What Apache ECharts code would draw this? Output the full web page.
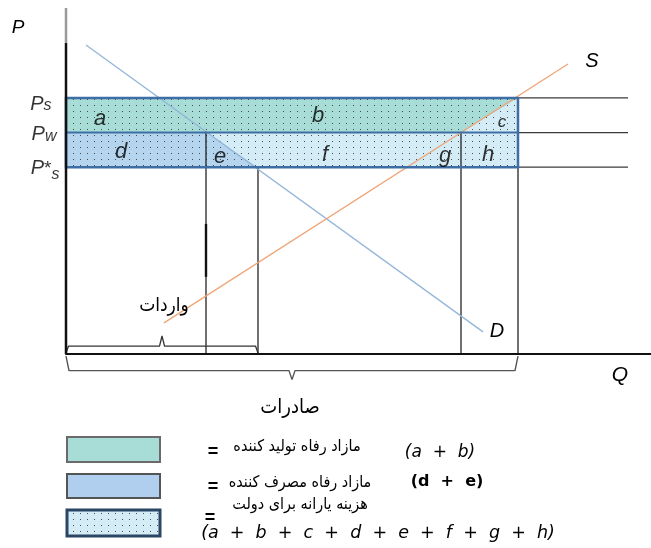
<!DOCTYPE html>
<html><head><meta charset="utf-8">
<script src="https://cdn.jsdelivr.net/npm/echarts@6/dist/echarts.min.js"></script>
<style>html,body{margin:0;padding:0;background:#fff}#c{width:651px;height:548px}</style>
</head><body><div id="c"></div>
<script>
// ---- data (Q on x, P on y) ----
const priceNames = ['Ps', 'Pw', 'P*s'];
const priceValues = [74, 64, 54];
const demandCurve = [[4, 89.3], [83.4, 6.4]];
const supplyCurve = [[19.6, 9.0], [100.4, 83.8]];
const qDemandWorld = 28;    // demand at Pw
const qDemandCons = 38.4;   // demand at P*s
const qSupplyWorld = 79;    // supply at Pw
const qSupplyProd = 90.4;   // supply at Ps
const qLineEnd = 112.4;
const regionNames = ['a', 'b', 'c', 'd', 'e', 'f', 'g', 'h'];
const regionQ = [6.8, 50.4, 87.2, 11, 30.8, 51.8, 75.8, 84.4];
const regionP = [68, 68.8, 67, 58.4, 56.9, 57.5, 57.2, 57.5];

const Ps = priceValues[0], Pw = priceValues[1], Pc = priceValues[2];

const dotCanvas = document.createElement('canvas');
dotCanvas.width = 7; dotCanvas.height = 6;
const dctx = dotCanvas.getContext('2d');
dctx.fillStyle = 'rgba(60,60,60,0.9)';
dctx.fillRect(3, 3, 1, 1);
const dots = { image: dotCanvas, repeat: 'repeat' };

function area(points, style, z) {
  return {
    type: 'custom', coordinateSystem: 'cartesian2d', data: [[0, 0]], z: z, silent: true, clip: false,
    renderItem: (params, api) => ({ type: 'polygon', shape: { points: points.map(p => api.coord(p)) }, style: style })
  };
}
function seg(points, color, width, z) {
  return { type: 'line', data: points, symbol: 'none', clip: false, silent: true, z: z,
    lineStyle: { color: color, width: width }, animation: false };
}

const lightRect = [[0, Pc], [qSupplyProd, Pc], [qSupplyProd, Ps], [0, Ps]];
const tealPoly = [[0, Ps], [qSupplyProd, Ps], [qSupplyWorld, Pw], [0, Pw]];
const bluePoly = [[0, Pw], [qDemandWorld, Pw], [qDemandCons, Pc], [0, Pc]];

const series = [
  area(lightRect, { fill: '#d4ecf5' }, 1),
  area(tealPoly, { fill: '#a8dcd6' }, 2),
  area(bluePoly, { fill: '#b5d4ee' }, 2),
  area(lightRect, { fill: dots }, 3),
  area(lightRect, { fill: 'none', stroke: '#3d6ea6', lineWidth: 2.5 }, 6),
  seg([[0, Pw], [qSupplyProd, Pw]], '#3d6ea6', 2, 6)
];
priceValues.forEach(p => series.push(seg([[qSupplyProd, p], [qLineEnd, p]], '#3a3a3a', 1.3, 4)));
series.push(seg([[qDemandWorld, Pw], [qDemandWorld, 0]], '#111', 1.2, 4));
series.push(seg([[qDemandWorld, 37.6], [qDemandWorld, 22.3]], '#111', 2.4, 4));
series.push(seg([[qDemandCons, Pc], [qDemandCons, 0]], '#111', 1.2, 4));
series.push(seg([[qSupplyWorld, Pw], [qSupplyWorld, 0]], '#111', 1.2, 4));
series.push(seg([[qSupplyProd, Pc], [qSupplyProd, 0]], '#111', 1.2, 4));
series.push(seg(demandCurve, '#93b6d8', 1.3, 5));
series.push(seg(supplyCurve, '#f0a577', 1.3, 5));
// braces
const qImpMid = qDemandCons / 2, qExpMid = qSupplyProd / 2;
series.push(seg([[0, 0.3], [0.5, 2.3], [qImpMid - 0.5, 2.3], [qImpMid, 5.2], [qImpMid + 0.5, 2.3], [qDemandCons - 0.5, 2.3], [qDemandCons, 0.3]], '#333', 1.3, 4));
series.push(seg([[0, -0.6], [0.6, -4.8], [qExpMid - 0.6, -4.8], [qExpMid, -7.4], [qExpMid + 0.6, -4.8], [qSupplyProd - 0.6, -4.8], [qSupplyProd, -0.6]], '#555', 1.4, 4));
// vertical axis (grey top)
series.push(seg([[0, 0], [0, 89.9]], '#111', 2.5, 7));
series.push(seg([[0, 89.9], [0, 100]], '#999', 2.5, 7));
// region letters
series.push({
  type: 'scatter', clip: false, silent: true, z: 8, symbolSize: 1, itemStyle: { color: 'rgba(0,0,0,0)' },
  data: regionNames.map((n, i) => ({ value: [regionQ[i], regionP[i]], name: n,
    label: { fontSize: n === 'c' ? 17 : 22 } })),
  label: { show: true, position: 'inside', formatter: '{b}', color: '#000', textBorderWidth: 0, fontStyle: 'italic', fontFamily: 'Liberation Sans' }
});
// price labels
const priceOffsets = [[-14, 6], [-9, 2], [-6, 3]];
const priceFmt = ['{p|P}{s|s}', '{p|P}{s|w}', '{pp|P}{st|*}{s|s}'];
series.push({
  type: 'scatter', clip: false, silent: true, z: 8, symbolSize: 1, itemStyle: { color: 'rgba(0,0,0,0)' },
  data: priceValues.map((p, i) => ({ value: [0, p], name: priceNames[i],
    label: { formatter: priceFmt[i], offset: priceOffsets[i] } })),
  label: {
    show: true, position: 'left', distance: 0, color: '#000',
    rich: {
      p: { fontSize: 20, fontStyle: 'italic', fontFamily: 'Liberation Sans', verticalAlign: 'bottom', color: '#000' },
      pp: { fontSize: 20, fontStyle: 'italic', fontFamily: 'Liberation Sans', verticalAlign: 'bottom', padding: [0, 0, 4, 0], color: '#000' },
      st: { fontSize: 19, fontFamily: 'Liberation Sans', verticalAlign: 'bottom', padding: [0, 0, 4, 0], color: '#000' },
      s: { fontSize: 16, fontStyle: 'italic', fontFamily: 'Liberation Sans', verticalAlign: 'bottom', color: '#000' }
    }
  }
});

function txt(text, x, y, font, extra) {
  return Object.assign({ type: 'text', z: 10, silent: true,
    style: { text: text, x: x, y: y, font: font, fill: '#000', textAlign: 'center', textVerticalAlign: 'middle', align: 'center', verticalAlign: 'middle' } }, extra || {});
}
const latin = '"Liberation Sans", Arial, sans-serif';
const fa = '"DejaVu Sans Condensed", "DejaVu Sans", sans-serif';
const graphic = [
  txt('P', 18, 28, 'italic 19px ' + latin),
  txt('Q', 620, 375, 'italic 21px ' + latin),
  txt('S', 592, 61, 'italic 20px ' + latin),
  txt('D', 497, 331, 'italic 20px ' + latin),
  txt('واردات', 164, 306, '19px ' + fa),
  txt('صادرات', 290, 408, '20px ' + fa),
  { type: 'rect', z: 10, silent: true, shape: { x: 67, y: 437, width: 93, height: 25 }, style: { fill: '#a8dcd6', stroke: '#6a6a6a', lineWidth: 2 } },
  { type: 'rect', z: 10, silent: true, shape: { x: 67, y: 474, width: 93, height: 24 }, style: { fill: '#b0cfee', stroke: '#555', lineWidth: 2 } },
  { type: 'rect', z: 10, silent: true, shape: { x: 67, y: 510, width: 93, height: 26 }, style: { fill: '#d4ecf5', stroke: 'none' } },
  { type: 'rect', z: 11, silent: true, shape: { x: 67, y: 510, width: 93, height: 26 }, style: { fill: dots, stroke: '#2a4565', lineWidth: 3 } },
  txt('=', 213, 452, 'bold 18px ' + latin),
  txt('مازاد رفاه تولید کننده', 297, 447, '16px ' + fa),
  txt('(a  +  b)', 440, 453, 'italic 17px "DejaVu Sans", sans-serif'),
  txt('=', 213, 487, 'bold 18px ' + latin),
  txt('مازاد رفاه مصرف کننده', 300, 483, '16px ' + fa),
  txt('(d  +  e)', 447, 482, 'bold 16px "DejaVu Sans", sans-serif'),
  txt('هزینه یارانه برای دولت', 300, 505, '16px ' + fa),
  txt('=', 210, 518, 'bold 18px ' + latin),
  txt('(a  +  b  +  c  +  d  +  e  +  f  +  g  +  h)', 378, 533, 'italic 17.5px "DejaVu Sans", sans-serif')
];

const chart = echarts.init(document.getElementById('c'));
chart.setOption({
  animation: false,
  backgroundColor: '#fff',
  grid: { left: 66, top: 8, width: 585, height: 346, containLabel: false },
  xAxis: { type: 'value', min: 0, max: 117, axisLine: { show: true, onZero: false, lineStyle: { color: '#111', width: 2 } },
    axisTick: { show: false }, axisLabel: { show: false }, splitLine: { show: false } },
  yAxis: { type: 'value', min: 0, max: 100, axisLine: { show: false }, axisTick: { show: false }, axisLabel: { show: false }, splitLine: { show: false } },
  series: series,
  graphic: graphic
});
</script>
</body></html>
